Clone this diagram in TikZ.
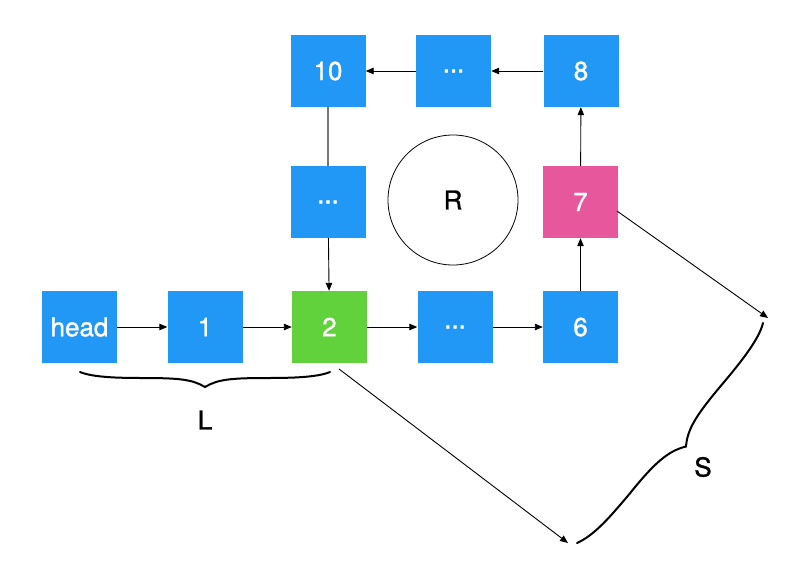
\documentclass[tikz,border=0pt]{standalone}
\usepackage{fontspec}
\setmainfont{TeX Gyre Heros}
\newfontfamily\boxfont{TeX Gyre Heros}[FakeBold=1.2]
\usetikzlibrary{arrows.meta}
\definecolor{boxblue}{RGB}{33,152,246}
\definecolor{boxgreen}{RGB}{98,210,60}
\definecolor{boxpink}{RGB}{230,88,155}
\definecolor{linkgray}{RGB}{120,120,120}
\tikzset{
  listbox/.style={minimum width=75pt, minimum height=72pt, inner sep=0pt, text=white, font=\boxfont\fontsize{26}{30}\selectfont},
  blue box/.style={listbox, fill=boxblue},
  link/.style={line width=0.9pt, -{Triangle[length=8pt,width=6.5pt]}},
  brace line/.style={line width=2pt, line cap=round},
  lbl/.style={font=\boxfont\fontsize{26}{30}\selectfont, text=black}
}
\begin{document}
\begin{tikzpicture}[x=1pt,y=-1pt]
\useasboundingbox[fill=white] (0,0) rectangle (808,565);
% bottom row
\node[blue box] (head) at (79.5,327) {head};
\node[blue box] (n1) at (205,327) {1};
\node[listbox, fill=boxgreen] (n2) at (329.5,327) {2};
\node[blue box] (d3) at (455,327) {...};
\node[blue box] (n6) at (580.5,327) {6};
% middle row
\node[blue box] (dm) at (328,202) {...};
\node[draw, line width=0.8pt, circle, minimum size=130pt, inner sep=0pt, lbl] (R) at (453,200) {R};
\node[listbox, fill=boxpink] (n7) at (580.5,202) {7};
% top row
\node[blue box] (n10) at (328,71) {10};
\node[blue box] (dt) at (453.5,71) {...};
\node[blue box] (n8) at (581,71) {8};
% free ends
\coordinate (s2) at (339,369);
\coordinate (e2) at (568,543);
\coordinate (s7) at (617,211);
\coordinate (e7) at (768,318);
% connectors
\draw[link] (head) -- (n1);
\draw[link] (n1) -- (n2);
\draw[link] (n2) -- (d3);
\draw[link] (d3) -- (n6);
\draw[link] (n6) -- (n7);
\draw[link] (n7) -- (n8);
\draw[link] (n8) -- (dt);
\draw[link] (dt) -- (n10);
\draw[line width=1.2pt, linkgray] (n10) -- (dm);
\draw[link] (dm) -- (n2);
\draw[link] (s2) -- (e2);
\draw[link] (s7) -- (e7);
% brace L
\draw[brace line] (80,372) .. controls (92.5,377.25) and (117.5,378) .. (142.5,378)
  .. controls (180,378) and (192.5,379.5) .. (205,387)
  .. controls (217.5,379.5) and (230,378) .. (267.5,378)
  .. controls (292.5,378) and (317.5,377.25) .. (330,372);
\node[lbl] (L) at (205,420) {L};
% brace S
\draw[brace line] (577,543) .. controls (595,535) and (611.3,515.4) .. (629.9,493.4)
  .. controls (655,462) and (668.7,450.75) .. (686,446.5)
  .. controls (687.3,428.75) and (697,414) .. (722.9,383.4)
  .. controls (741.5,361.4) and (759.3,338.7) .. (763,323);
\node[lbl] (S) at (703,467) {S};
\end{tikzpicture}
\end{document}
